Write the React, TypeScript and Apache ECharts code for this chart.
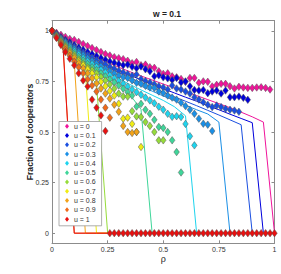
import React, { useEffect, useRef } from 'react';
import * as echarts from 'echarts';

const uLabels = ['u = 0', 'u = 0.1', 'u = 0.2', 'u = 0.3', 'u = 0.4', 'u = 0.5', 'u = 0.6', 'u = 0.7', 'u = 0.8', 'u = 0.9', 'u = 1'];
const colors = ['#f0149b', '#0000dc', '#1a4fe0', '#1a8fe6', '#1ed4ee', '#3fd69a', '#96dc3a', '#f0ec14', '#f2a319', '#f06a1a', '#e81010'];

const xTicks = [0, 0.25, 0.5, 0.75, 1];
const yTicks = [0, 0.25, 0.5, 0.75, 1];

// rho grid of the simulations (markers)
const simRho = [0, 0.02, 0.04, 0.06, 0.08, 0.1, 0.12, 0.14, 0.16, 0.18, 0.2, 0.22, 0.24, 0.26, 0.28, 0.3, 0.32, 0.34, 0.36, 0.38, 0.4, 0.42, 0.44, 0.46, 0.48, 0.5, 0.52, 0.54, 0.56, 0.58, 0.6, 0.62, 0.64, 0.66, 0.68, 0.7, 0.72, 0.74, 0.76, 0.78, 0.8, 0.82, 0.84, 0.86, 0.88, 0.9, 0.92, 0.94, 0.96, 0.98, 1.0];
// rho grid of the theory lines
const thRho = [0, 0.05, 0.1, 0.15, 0.2, 0.25, 0.3, 0.35, 0.4, 0.45, 0.5, 0.55, 0.6, 0.65, 0.7, 0.75, 0.8, 0.85, 0.9, 0.95, 1.0];

const sim0 = [1, .99, .98, .97, .96, .955, .945, .935, .925, .915, .905, .895, .885, .878, .87, .865, .86, .852, .84, .846, .83, .833, .82, .817, .80, .787, .79, .775, .77, .762, .748, .767, .767, .743, .75, .748, .725, .733, .738, .738, .726, .715, .723, .72, .718, .718, .72, .721, .718, .71];
const sim1 = [1, .985, .97, .956, .943, .93, .918, .906, .895, .885, .875, .866, .857, .849, .842, .836, .83, .833, .822, .815, .824, .81, .80, .775, .78, .77, .765, .757, .767, .745, .75, .726, .708, .705, .708, .692, .70, .705, .69, .705, .672, .672, .675, .669, .659];
const sim2 = [1, .982, .965, .949, .934, .92, .906, .892, .879, .867, .855, .844, .833, .822, .812, .803, .794, .786, .778, .784, .762, .752, .745, .736, .726, .72, .71, .73, .715, .71, .70, .69, .672, .66, .647, .635, .623, .631, .623, .615, .61, .606, .60];
const sim3 = [1, .98, .962, .944, .927, .911, .895, .88, .865, .851, .838, .825, .812, .80, .789, .778, .77, .767, .755, .743, .738, .728, .72, .718, .70, .693, .68, .67, .66, .645, .628, .61, .59, .566, .541, .536, .505];
const sim4 = [1, .978, .957, .937, .918, .90, .883, .866, .85, .836, .822, .808, .794, .78, .766, .752, .738, .724, .71, .697, .684, .67, .656, .642, .625, .61, .59, .575, .578, .574, .54, .479, .434];
const sim5 = [1, .976, .953, .931, .91, .89, .871, .853, .836, .82, .806, .79, .775, .76, .745, .73, .714, .697, .68, .626, .639, .61, .59, .56, .525, .52, .50, .459, .401, .30];
const sim6 = [1, .974, .949, .925, .902, .88, .859, .839, .82, .805, .79, .772, .754, .735, .715, .69, .675, .675, .603, .577, .574, .549, .53, .50, .459, .459];
const sim7 = [1, .972, .945, .92, .895, .872, .85, .83, .81, .79, .77, .748, .726, .703, .68, .64, .566, .571, .54, .50, .426];
const sim8 = [1, .97, .942, .915, .89, .865, .84, .815, .79, .765, .74, .715, .69, .665, .635, .60, .53, .50, .495, .50];
const sim9 = [1, .968, .937, .907, .877, .848, .82, .79, .76, .73, .70, .66, .62, .571];
const sim10 = [1, .965, .93, .895, .862, .83, .79, .755, .725, .66, .62, .582, .505,
  0, 0, 0, 0, 0, 0, 0, 0, 0, 0,
  0, 0, 0, 0, 0, 0, 0, 0, 0, 0,
  0, 0, 0, 0, 0, 0, 0, 0, 0, 0,
  0, 0, 0, 0, 0, 0, 0, 0];

const th0 = [1, .96, .925, .895, .868, .843, .82, .798, .777, .757, .737, .718, .699, .68, .66, .64, .62, .598, .575, .549, 0];
const th1 = [1, .955, .918, .886, .857, .83, .805, .781, .758, .736, .714, .693, .672, .652, .63, .61, .588, .567, .546, 0, 0];
const th2 = [1, .95, .912, .878, .848, .82, .793, .768, .744, .72, .697, .674, .652, .63, .607, .584, .56, .536, 0, 0, 0];
const th3 = [1, .945, .905, .87, .838, .808, .78, .753, .727, .702, .678, .655, .632, .61, .589, .549, 0, 0, 0, 0, 0];
const th4 = [1, .94, .898, .86, .826, .794, .764, .735, .708, .682, .656, .625, .58, 0, 0, 0, 0, 0, 0, 0, 0];
const th5 = [1, .93, .885, .843, .805, .77, .735, .685, .612, 0, 0, 0, 0, 0, 0, 0, 0, 0, 0, 0, 0];
const th6 = [1, .92, .86, .80, .738, 0, 0, 0, 0, 0, 0, 0, 0, 0, 0, 0, 0, 0, 0, 0, 0];
const th7 = [1, .91, .85, .795, 0, 0, 0, 0, 0, 0, 0, 0, 0, 0, 0, 0, 0, 0, 0, 0, 0];
const th8 = [1, .905, .844, 0, 0, 0, 0, 0, 0, 0, 0, 0, 0, 0, 0, 0, 0, 0, 0, 0, 0];
const th9 = [1, .92, 0, 0, 0, 0, 0, 0, 0, 0, 0, 0, 0, 0, 0, 0, 0, 0, 0, 0, 0];
const th10 = [1, .91, 0, 0, 0, 0, 0, 0, 0, 0, 0, 0, 0, 0, 0, 0, 0, 0, 0, 0, 0];

const simAll = [sim0, sim1, sim2, sim3, sim4, sim5, sim6, sim7, sim8, sim9, sim10];
const thAll = [th0, th1, th2, th3, th4, th5, th6, th7, th8, th9, th10];

const FONT = '"Liberation Sans", Arial, Helvetica, sans-serif';
const AX = '#8c8c8c';

export default function App() {
  const ref = useRef<HTMLDivElement>(null);
  useEffect(() => {
    document.body.style.margin = '0';
    const chart = echarts.init(ref.current!, null, { renderer: 'svg' });
    const axisCommon = {
      type: 'value' as const,
      axisLine: { show: true, onZero: false, lineStyle: { color: AX, width: 1 } },
      axisTick: { show: true, inside: true, length: 3, lineStyle: { color: AX, width: 1 } },
      splitLine: { show: false },
    };
    const lineSeries = thAll.map((arr, i) => ({
      type: 'line',
      name: 'theory ' + uLabels[i],
      data: arr.map((v, j) => [thRho[j], v]),
      showSymbol: false,
      symbol: 'none',
      lineStyle: { width: 1, color: colors[i] },
      itemStyle: { color: colors[i] },
      z: 2,
      silent: true,
    }));
    const scatterSeries = simAll.map((arr, i) => ({
      type: 'scatter',
      name: uLabels[i],
      data: arr.map((v, j) => [simRho[j], v]),
      symbol: 'diamond',
      symbolSize: [5.5, 7.5],
      itemStyle: { color: colors[i], borderColor: '#555', borderWidth: 0.5, opacity: 1 },
      z: 3,
      clip: false,
      silent: true,
    }));
    chart.setOption({
      animation: false,
      textStyle: { fontFamily: FONT },
      title: {
        text: 'w = 0.1',
        left: 162,
        top: 4,
        textAlign: 'center',
        textStyle: { fontSize: 8.5, fontWeight: 'bold', color: '#222', fontFamily: FONT },
      },
      grid: { left: 52, right: 6.5, top: 20.7, bottom: 30.7, containLabel: false },
      legend: {
        data: uLabels,
        orient: 'vertical',
        left: 59,
        top: 121.5,
        icon: 'diamond',
        itemWidth: 4,
        itemHeight: 5,
        itemGap: 0,
        padding: [0, 6, 2, 6],
        backgroundColor: '#fff',
        borderColor: '#999',
        borderWidth: 0.8,
        borderRadius: 0,
        itemStyle: { borderWidth: 0 },
        textStyle: { fontSize: 7, color: '#333', fontFamily: FONT, lineHeight: 9.3 },
        selectedMode: false,
      },
      xAxis: [
        {
          ...axisCommon,
          position: 'bottom',
          min: 0,
          max: 1,
          interval: 0.25,
          axisLabel: { show: true, fontSize: 7, color: '#333', margin: 3, fontFamily: FONT, customValues: xTicks },
          axisTick: { ...axisCommon.axisTick, customValues: xTicks },
          name: 'ρ',
          nameLocation: 'middle',
          nameGap: 11,
          nameMoveOverlap: false,
          nameTextStyle: { fontSize: 9, color: '#222', fontFamily: FONT },
        },
        {
          ...axisCommon,
          position: 'top',
          min: 0,
          max: 1,
          interval: 0.25,
          axisLabel: { show: false },
          axisTick: { ...axisCommon.axisTick, customValues: xTicks },
        },
      ],
      yAxis: [
        {
          ...axisCommon,
          position: 'left',
          min: -0.05,
          max: 1.05,
          axisLabel: { show: true, fontSize: 7, color: '#333', margin: 3, fontFamily: FONT, customValues: yTicks },
          axisTick: { ...axisCommon.axisTick, customValues: yTicks },
          name: 'Fraction of cooperators',
          nameLocation: 'middle',
          nameGap: 17.5,
          nameMoveOverlap: false,
          nameTextStyle: { fontSize: 8.6, fontWeight: 'bold', color: '#222', fontFamily: FONT },
        },
        {
          ...axisCommon,
          position: 'right',
          min: -0.05,
          max: 1.05,
          axisLabel: { show: false, customValues: yTicks },
          axisTick: { ...axisCommon.axisTick, customValues: yTicks },
        },
      ],
      series: [...lineSeries, ...scatterSeries],
    });
    return () => chart.dispose();
  }, []);
  return <div ref={ref} style={{ width: 281, height: 274 }} />;
}
